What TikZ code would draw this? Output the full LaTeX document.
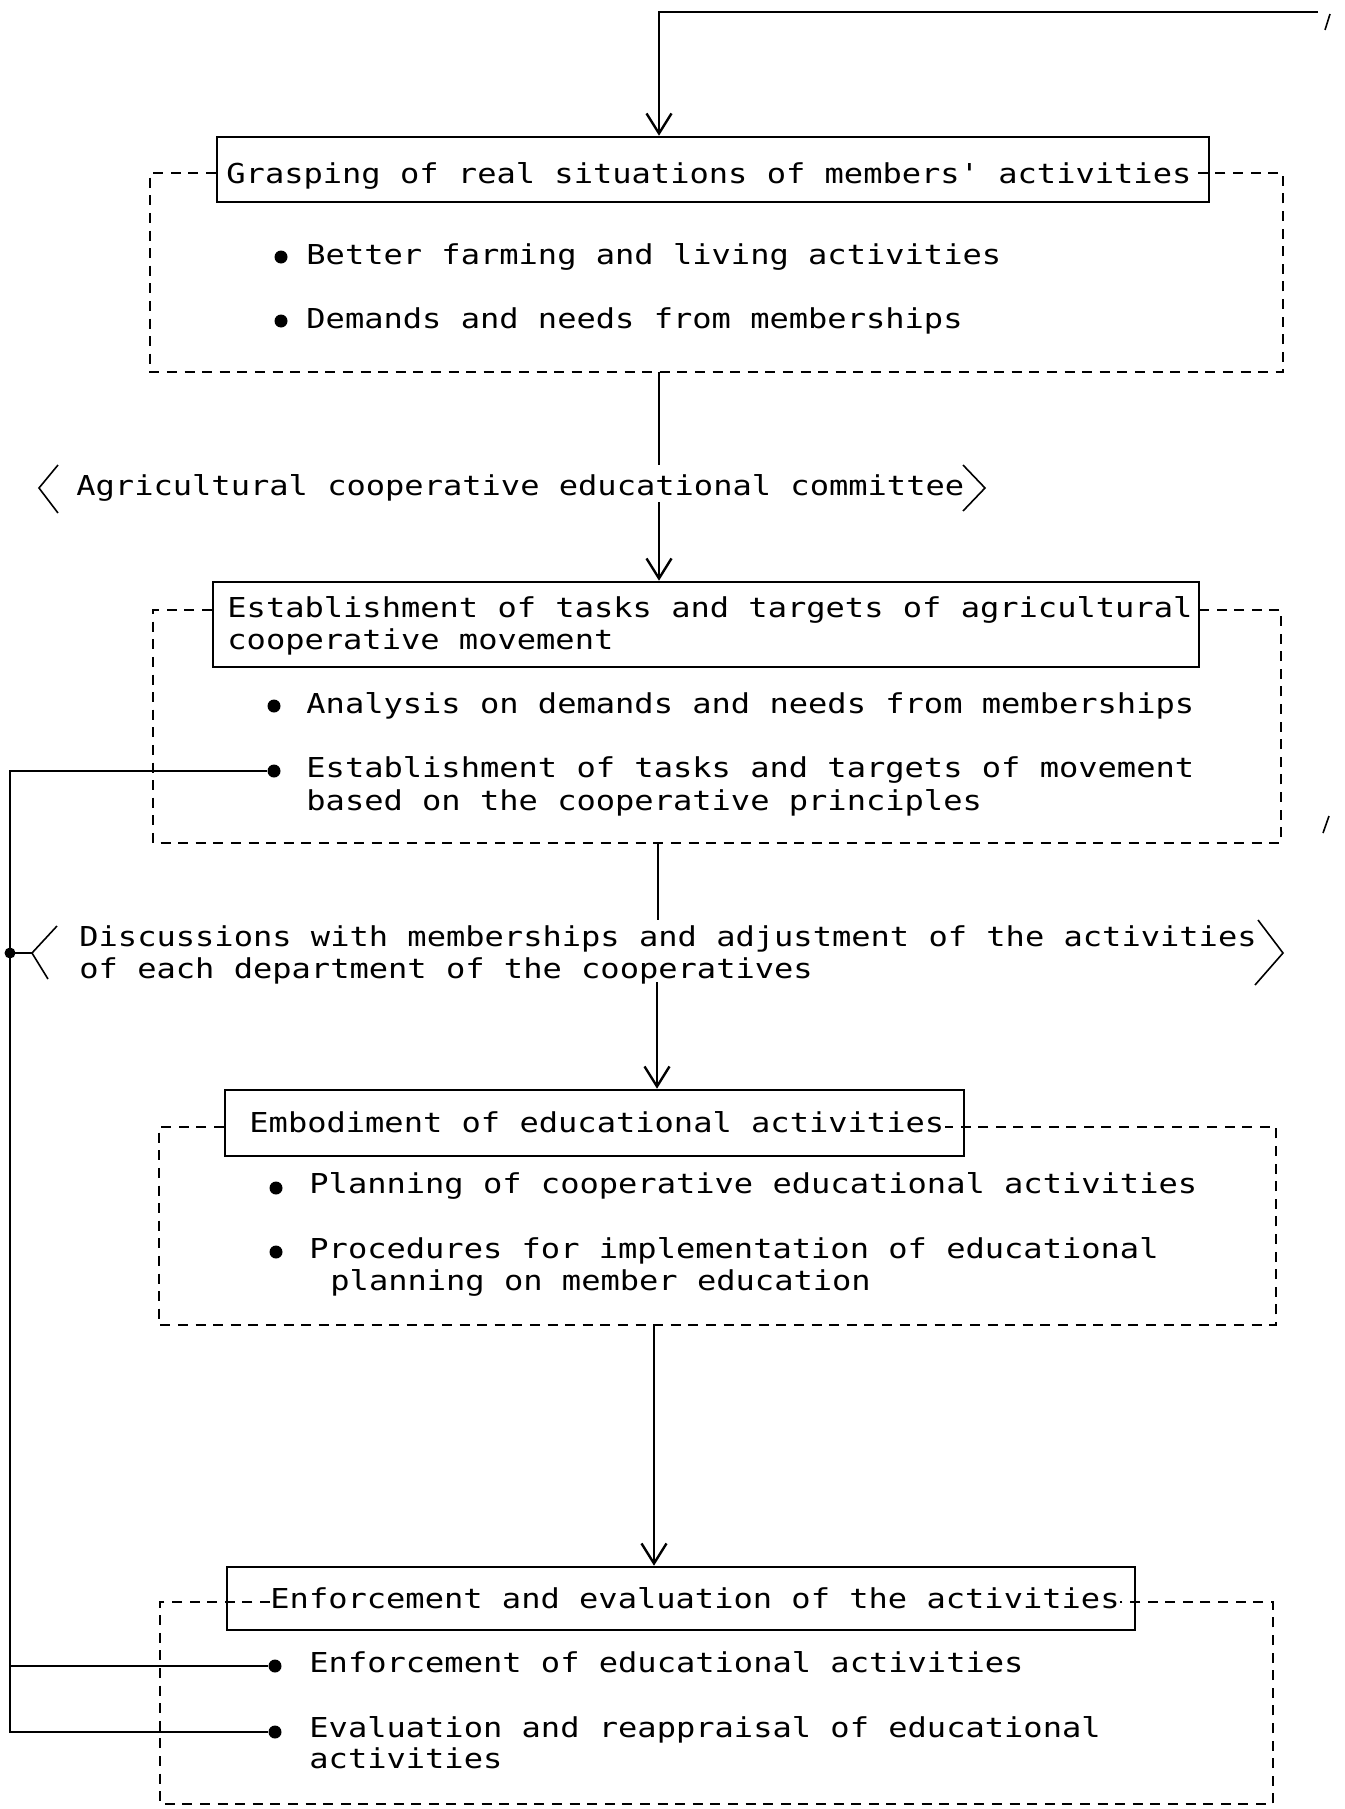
\documentclass[tikz,border=0pt]{standalone}
\usepackage{fontspec}
\newfontfamily\typewriter[FakeStretch=1.17]{DejaVu Sans Mono}
\usetikzlibrary{arrows.meta}

\begin{document}
\begin{tikzpicture}[x=0.5pt,y=-0.5pt,
  txt/.style={anchor=base west, inner sep=0pt, font=\typewriter\fontsize{13.7pt}{16pt}\selectfont},
  titlebox/.style={draw, line width=1.3pt, rectangle, inner sep=0pt},
  frame/.style={line width=0.9pt, dash pattern=on 5pt off 3.8pt},
  link/.style={line width=0.8pt},
  arr/.style={link, -{Straight Barb[length=10pt,width=12.5pt,line width=1.2pt]}},
  dot/.style={circle, fill, inner sep=0pt, minimum size=6.5pt},
]
\useasboundingbox (0,0) rectangle (1344,1809);

% ---------- stage 1 ----------
\node[titlebox, minimum width=496pt, minimum height=32.5pt] (b1) at (713,169.5) {};
\node[txt] (t1) at (226,184) {Grasping of real situations of members' activities};
\draw[frame] (b1.west |- 0,173) -- (150,173) -- (150,372) -- (1283,372) -- (1283,173) -- (t1.east |- 0,173);
\node[dot] (p1a) at (281,257) {};
\node[txt] (s1a) at (306,264) {Better farming and living activities};
\node[dot] (p1b) at (281,321) {};
\node[txt] (s1b) at (306,328) {Demands and needs from memberships};

% ---------- committee label ----------
\node[txt] (ag) at (76,495) {Agricultural cooperative educational committee};
\draw[link] (58,465) -- (39,488) -- (58,513);
\draw[link] (963,465) -- (985,488) -- (963,511);

% ---------- stage 2 ----------
\node[titlebox, minimum width=493pt, minimum height=42.5pt] (b2) at (706,624.5) {};
\node[txt] (t2a) at (227,617) {Establishment of tasks and targets of agricultural};
\node[txt] (t2b) at (227,649) {cooperative movement};
\draw[frame] (b2.west |- 0,610) -- (153,610) -- (153,843) -- (1281,843) -- (1281,610) -- (t2a.east |- 0,610);
\node[dot] (p2a) at (274,706) {};
\node[txt] (s2a) at (306,713) {Analysis on demands and needs from memberships};
\node[dot] (p2b) at (274,771) {};
\node[txt] (s2b) at (306,777) {Establishment of tasks and targets of movement};
\node[txt] (s2c) at (306,810) {based on the cooperative principles};

% ---------- discussion label ----------
\node[txt] (ds1) at (79,946) {Discussions with memberships and adjustment of the activities};
\node[txt] (ds2) at (79,978) {of each department of the cooperatives};
\node[dot, minimum size=5.5pt] (j) at (10,953) {};
\coordinate (fork) at (32,953);
\draw[link] (j.center) -- (fork);
\draw[link] (57,926) -- (fork) -- (48,979);
\draw[link] (1258,920) -- (1283,953) -- (1255,985);

% ---------- stage 3 ----------
\node[titlebox, minimum width=369.5pt, minimum height=33pt] (b3) at (594.5,1123) {};
\node[txt] (t3) at (249,1132) {Embodiment of educational activities};
\draw[frame] (b3.west |- 0,1127) -- (159,1127) -- (159,1325) -- (1276,1325) -- (1276,1127) -- (t3.east |- 0,1127);
\node[dot] (p3a) at (276,1188) {};
\node[txt] (s3a) at (309,1193) {Planning of cooperative educational activities};
\node[dot] (p3b) at (276,1252) {};
\node[txt] (s3b) at (309,1258) {Procedures for implementation of educational};
\node[txt] (s3c) at (330,1290) {planning on member education};

% ---------- stage 4 ----------
\node[titlebox, minimum width=454pt, minimum height=31.5pt] (b4) at (681,1598.5) {};
\node[txt] (t4) at (270,1608) {Enforcement and evaluation of the activities};
\draw[frame] (t4.west |- 0,1602) -- (160,1602) -- (160,1804) -- (1273,1804) -- (1273,1602) -- (t4.east |- 0,1602);
\node[dot] (p4a) at (275,1666) {};
\node[txt] (s4a) at (309,1672) {Enforcement of educational activities};
\node[dot] (p4b) at (275,1732) {};
\node[txt] (s4b) at (309,1737) {Evaluation and reappraisal of educational};
\node[txt] (s4c) at (309,1768) {activities};

% ---------- main flow ----------
\coordinate (loopR) at (1318,12);
\coordinate (loopL) at (659,12);
\draw[arr] (loopR) -- (loopL) -- (loopL |- b1.north);
\draw[link] (1330,14) -- (1325,30);

\coordinate (c1) at (659,372);
\coordinate (c1a) at (659,465);
\coordinate (c1b) at (659,502);
\draw[link] (c1) -- (c1a);
\draw[arr] (c1b) -- (c1b |- b2.north);

\coordinate (c2) at (658,843);
\coordinate (c2a) at (658,920);
\coordinate (c2b) at (657,982);
\draw[link] (c2) -- (c2a);
\draw[arr] (c2b) -- (c2b |- b3.north);

\coordinate (c3) at (654,1325);
\draw[arr] (c3) -- (c3 |- b4.north);

% ---------- feedback line on the left ----------
\coordinate (fb) at (10,771);
\draw[link] (p2b) -- (fb) -- (fb |- p4b) -- (p4b);
\draw[link] (fb |- p4a) -- (p4a);

% small stroke at the right margin
\draw[link] (1329,816) -- (1323,833);
\end{tikzpicture}
\end{document}
